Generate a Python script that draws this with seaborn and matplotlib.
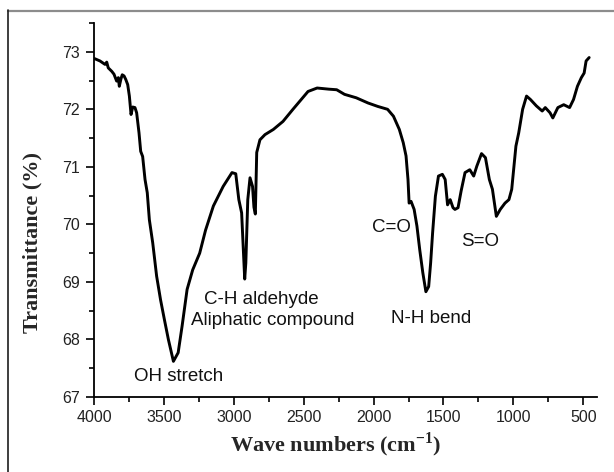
import matplotlib
matplotlib.use("Agg")
import matplotlib.pyplot as plt
from matplotlib.lines import Line2D
from matplotlib.ticker import MultipleLocator
import seaborn as sns
import pandas as pd

# ---- data ----
wavenumber = [3995, 3957, 3921, 3909, 3898, 3873, 3857, 3838, 3826, 3819, 3807, 3798,
              3785, 3773, 3759, 3747, 3735, 3723, 3707, 3695, 3678, 3666, 3652, 3635,
              3619, 3604, 3580, 3552, 3524, 3496, 3468, 3432, 3398, 3370, 3334, 3294,
              3244, 3202, 3146, 3076, 3013, 2986, 2964, 2944, 2922, 2914, 2900, 2884,
              2866, 2856, 2846, 2836, 2813, 2777, 2717, 2648, 2577, 2469, 2404, 2320,
              2264, 2208, 2124, 2040, 1970, 1900, 1858, 1816, 1788, 1768, 1754, 1746,
              1732, 1710, 1690, 1670, 1648, 1626, 1606, 1592, 1578, 1558, 1536, 1508,
              1488, 1471, 1452, 1432, 1418, 1396, 1374, 1346, 1312, 1284, 1262, 1228,
              1200, 1172, 1150, 1122, 1094, 1060, 1032, 1012, 982, 962, 934, 906,
              878, 836, 794, 772, 738, 718, 682, 640, 598, 570, 542, 514, 494, 480, 458]
transmittance = [72.88, 72.84, 72.78, 72.82, 72.72, 72.66, 72.61, 72.49, 72.55, 72.40, 72.53, 72.60,
                 72.58, 72.52, 72.43, 72.23, 71.91, 72.04, 72.03, 71.94, 71.59, 71.27, 71.18, 70.78,
                 70.55, 70.08, 69.68, 69.10, 68.69, 68.34, 68.00, 67.62, 67.77, 68.23, 68.87, 69.21,
                 69.50, 69.90, 70.32, 70.66, 70.90, 70.88, 70.43, 70.20, 69.05, 69.33, 70.43, 70.81,
                 70.66, 70.30, 70.18, 71.25, 71.47, 71.56, 71.65, 71.79, 72.00, 72.31, 72.37, 72.35,
                 72.34, 72.26, 72.20, 72.11, 72.05, 72.00, 71.88, 71.65, 71.42, 71.19, 70.78, 70.37,
                 70.40, 70.26, 69.97, 69.56, 69.16, 68.83, 68.92, 69.33, 69.85, 70.49, 70.84, 70.87,
                 70.78, 70.34, 70.43, 70.29, 70.26, 70.29, 70.58, 70.90, 70.95, 70.84, 71.01, 71.23,
                 71.16, 70.78, 70.61, 70.14, 70.26, 70.37, 70.43, 70.61, 71.36, 71.59, 72.00, 72.23,
                 72.17, 72.06, 71.97, 72.03, 71.94, 71.85, 72.03, 72.08, 72.03, 72.17, 72.40, 72.55,
                 72.63, 72.84, 72.90]

annotation_texts = ["OH stretch", "C-H aldehyde", "Aliphatic compound", "C=O", "N-H bend", "S=O"]
annotation_x = [3392, 2805, 2720, 1872, 1592, 1236]
annotation_y = [67.36, 68.69, 68.33, 69.94, 68.37, 69.71]

x_ticks = [4000, 3500, 3000, 2500, 2000, 1500, 1000, 500]
y_ticks = [67, 68, 69, 70, 71, 72, 73]

x_label = r"Wave numbers (cm$^{\mathbf{-1}}$)"
y_label = "Transmittance (%)"

# ---- styling ----
sns.set_theme(style="ticks")
plt.rcParams["font.family"] = ["Liberation Sans", "DejaVu Sans"]
plt.rcParams["mathtext.fontset"] = "custom"
plt.rcParams["mathtext.rm"] = "Liberation Serif"
plt.rcParams["mathtext.bf"] = "Liberation Serif:bold"

fig = plt.figure(figsize=(6.14, 4.72), dpi=100)
fig.patch.set_facecolor("white")
ax = fig.add_axes([94 / 614, 1 - 397 / 472, (597 - 94) / 614, (397 - 23) / 472])
ax.set_facecolor("white")

df = pd.DataFrame({"wavenumber": wavenumber, "transmittance": transmittance})
sns.lineplot(data=df, x="wavenumber", y="transmittance", sort=False, estimator=None,
             color="black", linewidth=2.1, ax=ax)

ax.set_xlim(4000, 402)
ax.set_ylim(67, 73.5)
ax.set_xticks(x_ticks)
ax.set_yticks(y_ticks)
ax.xaxis.set_minor_locator(MultipleLocator(250))
ax.yaxis.set_minor_locator(MultipleLocator(0.5))
ax.tick_params(which="major", direction="out", length=6, width=1.2, colors="black",
               labelsize=11.5, pad=3)
ax.tick_params(which="minor", direction="out", length=3.5, width=1.2, colors="black")
ax.tick_params(axis="y", which="major", pad=4)
for lab in ax.get_xticklabels() + ax.get_yticklabels():
    lab.set_color("#222222")

sns.despine(ax=ax, top=True, right=True)
for side in ["left", "bottom"]:
    ax.spines[side].set_linewidth(1.3)
    ax.spines[side].set_color("black")

ax.set_xlabel(x_label, fontfamily="Liberation Serif", fontweight="bold", fontsize=16)
ax.set_ylabel(y_label, fontfamily="Liberation Serif", fontweight="bold", fontsize=16)
ax.xaxis.set_label_coords(0.481, -0.09)
ax.yaxis.set_label_coords(-0.103, 0.414)

for t, xx, yy in zip(annotation_texts, annotation_x, annotation_y):
    ax.text(xx, yy, t, ha="center", va="center", fontsize=13.5, color="#111111")

# outer frame lines
fig.add_artist(Line2D([8 / 614, 1], [1 - 10.8 / 472] * 2, transform=fig.transFigure,
                      color="#8c8c8c", linewidth=1.6))
fig.add_artist(Line2D([8 / 614] * 2, [0, 1 - 10 / 472], transform=fig.transFigure,
                      color="#1e1e1e", linewidth=1.2))

fig.savefig("out.png", dpi=100, facecolor="white")
